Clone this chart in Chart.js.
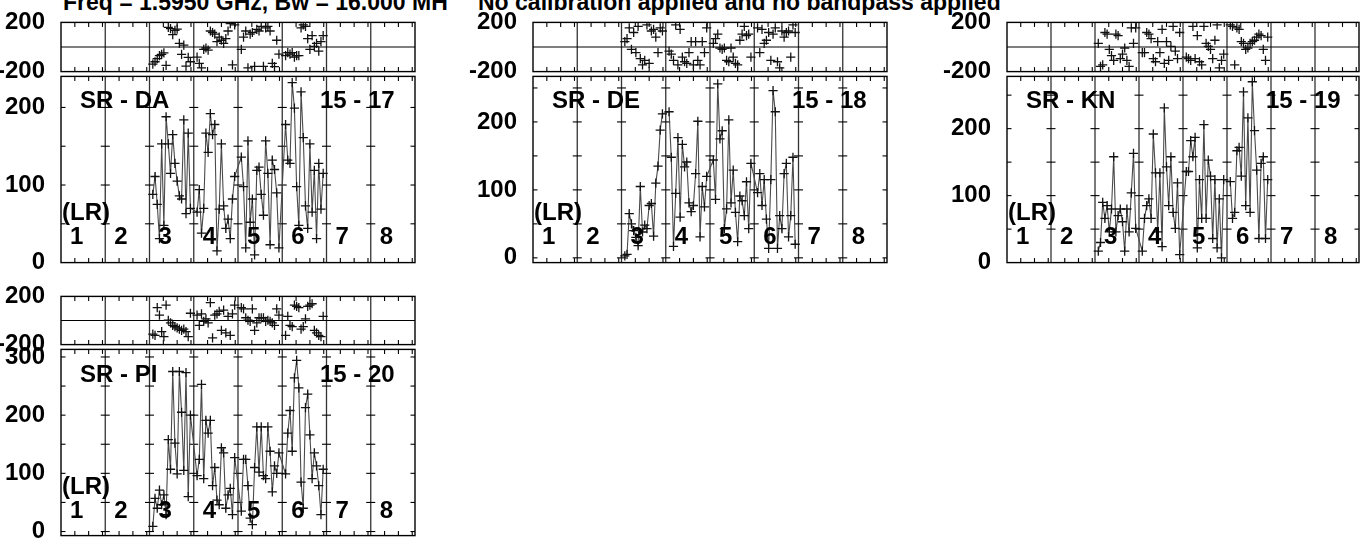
<!DOCTYPE html>
<html><head><meta charset="utf-8">
<script src="https://cdn.jsdelivr.net/npm/chart.js@4.4.1/dist/chart.umd.min.js"></script>
<style>
html,body{margin:0;padding:0;background:#fff;width:1366px;height:543px;overflow:hidden;position:relative}
canvas{position:absolute}
.t{position:absolute;font:bold 24px "Liberation Sans",Arial,sans-serif;line-height:24px;white-space:nowrap;color:#000}
.title{font-size:23px;line-height:23px}
</style></head><body>
<script>
// ---------- data ----------
const IF_NUMBERS = [1,2,3,4,5,6,7,8];
const DATA_IFS = [3,4,5,6];
const IF_WIDTH_MHZ = 16;
const X_MINOR_MHZ = [5,10,15];
const CHAN_MHZ = [1.2,2.0,2.8,3.6,4.4,5.2,6.0,6.8,7.6,8.4,9.2,10.0,10.8,11.6,12.4,13.2,14.0,14.8];
const PHASE_LABELS = [-200,200];

const TITLE_LEFT = "Freq = 1.5950 GHz, Bw = 16.000 MH";
const TITLE_RIGHT = "No calibration applied and no bandpass applied";
const STOKES = "(LR)";
const NAMES = ["SR - DA","SR - DE","SR - KN","SR - PI"];
const BASELINES = ["15 - 17","15 - 18","15 - 19","15 - 20"];

const DA_amp = [
 88,111,75,31,153,48,188,153,115,165,128,105,86,82,184,63,167,70,
 65,94,38,70,167,142,192,165,178,15,69,153,73,44,56,31,82,111,
 136,98,19,157,52,82,10,119,123,88,61,157,115,23,132,120,90,19,
 178,132,128,232,199,98,48,220,161,73,44,153,65,119,31,128,69,115];
const DA_phase = [
 -140,-120,-95,-70,-60,-48,-150,160,150,100,135,145,30,-60,15,-155,-85,-120,
 -83,-133,-170,-20,-8,-25,130,118,105,43,80,55,30,68,130,190,-145,180,
 -20,80,130,-170,105,118,-158,143,130,168,-158,155,168,130,-133,-160,55,-58,
 -70,-45,-58,-45,-83,-70,-70,155,180,168,68,-20,93,5,30,-33,43,93];
const DE_amp = [
 3,5,65,50,40,30,18,105,38,48,43,77,80,32,110,135,188,212,
 215,148,17,95,177,60,167,134,141,81,68,77,124,201,31,105,75,120,
 144,86,256,175,187,43,72,203,81,129,67,24,91,84,62,112,43,139,
 96,124,77,115,57,14,115,246,215,14,62,43,124,139,31,62,148,20];
const DE_phase = [
 43,68,155,-20,118,-45,168,-95,-145,-108,180,-133,130,143,80,-45,155,130,
 -33,-58,-108,180,-145,143,-83,-120,-133,-45,43,-145,43,-108,-145,43,-45,155,
 30,68,105,-8,-20,-8,-108,-120,-8,-83,-133,-145,55,105,168,93,105,-83,
 155,-45,143,30,55,118,-108,105,155,-120,-170,130,80,118,130,-83,180,118];
const KN_amp = [
 17,30,90,66,85,46,80,158,46,70,80,61,17,80,46,104,163,51,
 17,66,85,95,66,192,134,46,134,24,231,143,85,158,75,51,119,12,
 136,136,182,158,187,22,124,66,206,66,153,129,36,124,22,95,7,124,
 121,66,75,167,172,129,255,85,216,75,270,197,138,36,148,158,36,124];
const KN_phase = [
 30,-158,-145,118,105,-20,-70,-108,105,93,-95,-58,-8,-108,-158,155,30,155,
 -45,-45,118,105,68,-95,-120,43,-45,143,-133,43,-108,5,168,-33,-95,118,
 -83,-95,-108,168,-95,93,-120,-145,168,30,5,-20,-95,55,180,-170,-108,-58,
 180,168,-145,155,143,43,30,-20,-8,30,43,55,80,105,93,-20,-108,80];
const PI_amp = [
 9,57,40,71,46,63,29,158,107,275,152,99,275,205,105,273,60,200,
 96,124,253,91,191,169,191,79,110,54,46,144,135,40,63,74,29,127,
 35,124,124,79,23,12,110,180,102,180,96,91,180,138,68,113,100,135,
 99,169,208,138,264,294,247,85,40,213,236,166,91,135,113,79,29,107];
const PI_phase = [
 -113,-124,107,44,-92,-134,128,2,-19,-40,-50,-61,-71,-82,-71,-92,-134,60,
 44,-40,55,-8,13,-19,149,-145,44,55,76,-82,86,-103,34,-124,55,128,
 107,97,23,2,-8,97,-82,-19,23,23,23,-8,2,-8,-19,-40,97,44,
 -124,34,-40,-50,128,118,107,-71,-50,13,118,128,139,-82,-103,-124,-134,34];

const AMP_LABELS = [[0,100,200],[0,100,200],[0,100,200],[0,100,200,300]];
const AMP_MINOR = [[50,100,150,200],[0,50,100,150,200,250],[50,100,150,200,250],[0,50,100,150,200,250,300]];
const AMP_RANGE = [[0,240],[-7,267],[0,278],[-7,313]];

// ---------- layout ----------
const PANELS = [
 {amp:DA_amp, phase:DA_phase, L:61,  R:415,  T:20,  PB:74,  B:265},
 {amp:DE_amp, phase:DE_phase, L:533, R:887,  T:20,  PB:74,  B:265},
 {amp:KN_amp, phase:KN_phase, L:1007,R:1359, T:20,  PB:74,  B:265},
 {amp:PI_amp, phase:PI_phase, L:61,  R:415,  T:294, PB:347, B:538}
];
const TK = 4.5;
const YW = 75;
const FONT = '"Liberation Sans", Arial, sans-serif';

const framePlugin = {
  id:'frame',
  beforeDatasetsDraw(chart, args, o){
    const {ctx, chartArea:a, scales:{x,y}} = chart;
    const seg=(x1,y1,x2,y2)=>{ctx.beginPath();ctx.moveTo(x1,y1);ctx.lineTo(x2,y2);ctx.stroke();};
    ctx.save();
    ctx.lineWidth=1.3; ctx.strokeStyle='#333';
    IF_NUMBERS.slice(1).forEach(n=>{const px=x.getPixelForValue((n-1)*IF_WIDTH_MHZ);seg(px,a.top,px,a.bottom);});
    ctx.lineWidth=1.1; ctx.strokeStyle='#000';
    IF_NUMBERS.forEach(n=>X_MINOR_MHZ.forEach(m=>{
      const px=x.getPixelForValue((n-1)*IF_WIDTH_MHZ+m);
      seg(px,a.top,px,a.top+TK); seg(px,a.bottom-TK,px,a.bottom);
    }));
    o.yMinor.forEach(v=>{
      const py=y.getPixelForValue(v);
      seg(a.left,py,a.left+TK,py); seg(a.right-TK,py,a.right,py);
      IF_NUMBERS.slice(1).forEach(n=>{const px=x.getPixelForValue((n-1)*IF_WIDTH_MHZ);seg(px-TK,py,px+TK,py);});
    });
    if(o.zero){const py=y.getPixelForValue(0);seg(a.left,py,a.right,py);}
    ctx.lineWidth=1.4;
    ctx.strokeRect(a.left,a.top,a.right-a.left,a.bottom-a.top);
    ctx.restore();
  }
};

function buildPoints(arr){
  const pts=[];
  DATA_IFS.forEach((n,k)=>CHAN_MHZ.forEach((f,j)=>pts.push({x:(n-1)*IF_WIDTH_MHZ+f, y:arr[k*CHAN_MHZ.length+j]})));
  return pts;
}

function mkChart(L,R,T,B,cfg){
  const c=document.createElement('canvas');
  const W=R-L+YW+10, H=B-T+40;
  c.width=W; c.height=H;
  c.style.left=(L-YW)+'px'; c.style.top=(T-20)+'px';
  c.style.width=W+'px'; c.style.height=H+'px';
  document.body.appendChild(c);
  new Chart(c,{
    type:'scatter',
    data:{datasets:[{data:cfg.pts, showLine:cfg.line, borderColor:'#4a4a4a', borderWidth:1.1,
      pointStyle:'cross', pointRadius:4.6, pointHoverRadius:4.6, pointBorderColor:'#111', pointBorderWidth:1.3}]},
    options:{
      responsive:false, animation:false, devicePixelRatio:1, events:[],
      layout:{padding:{left:0,right:10,top:20,bottom:20}},
      plugins:{legend:{display:false}, tooltip:{enabled:false}, frame:{yMinor:cfg.minor, zero:cfg.zero}},
      scales:{
        x:{type:'linear', min:0, max:IF_NUMBERS.length*IF_WIDTH_MHZ, display:false},
        y:{type:'linear', min:cfg.min, max:cfg.max, bounds:'data',
           afterFit(s){s.width=YW;},
           afterBuildTicks(s){s.ticks=cfg.labels.map(v=>({value:v}));},
           grid:{display:false}, border:{display:false},
           ticks:{color:'#000', padding:8, font:{family:FONT,size:24,weight:'bold'}, callback:v=>String(v)}}
      }
    },
    plugins:[framePlugin]
  });
}

function txt(s,left,baseline,cls){
  const d=document.createElement('div');
  d.className='t'+(cls?' '+cls:''); d.textContent=s;
  const fs = cls ? 23 : 24;
  d.style.left=left+'px'; d.style.top=(baseline-0.847*fs)+'px';
  document.body.appendChild(d);
}

txt(TITLE_LEFT,63,10,'title');
txt(TITLE_RIGHT,478,10,'title');

PANELS.forEach((p,i)=>{
  mkChart(p.L,p.R,p.T,p.PB,{pts:buildPoints(p.phase), line:false, min:-200, max:200, labels:PHASE_LABELS, minor:[], zero:true});
  mkChart(p.L,p.R,p.PB,p.B,{pts:buildPoints(p.amp), line:true, min:AMP_RANGE[i][0], max:AMP_RANGE[i][1], labels:AMP_LABELS[i], minor:AMP_MINOR[i], zero:false});
  txt(NAMES[i], p.L+19, p.T+88);
  txt(BASELINES[i], p.L+259, p.T+88);
  txt(STOKES, p.L+1, p.T+200);
  const sw=(p.R-p.L)/IF_NUMBERS.length;
  IF_NUMBERS.forEach((n,k)=>txt(String(n), p.L+k*sw+9, p.T+224));
});
</script>
</body></html>
